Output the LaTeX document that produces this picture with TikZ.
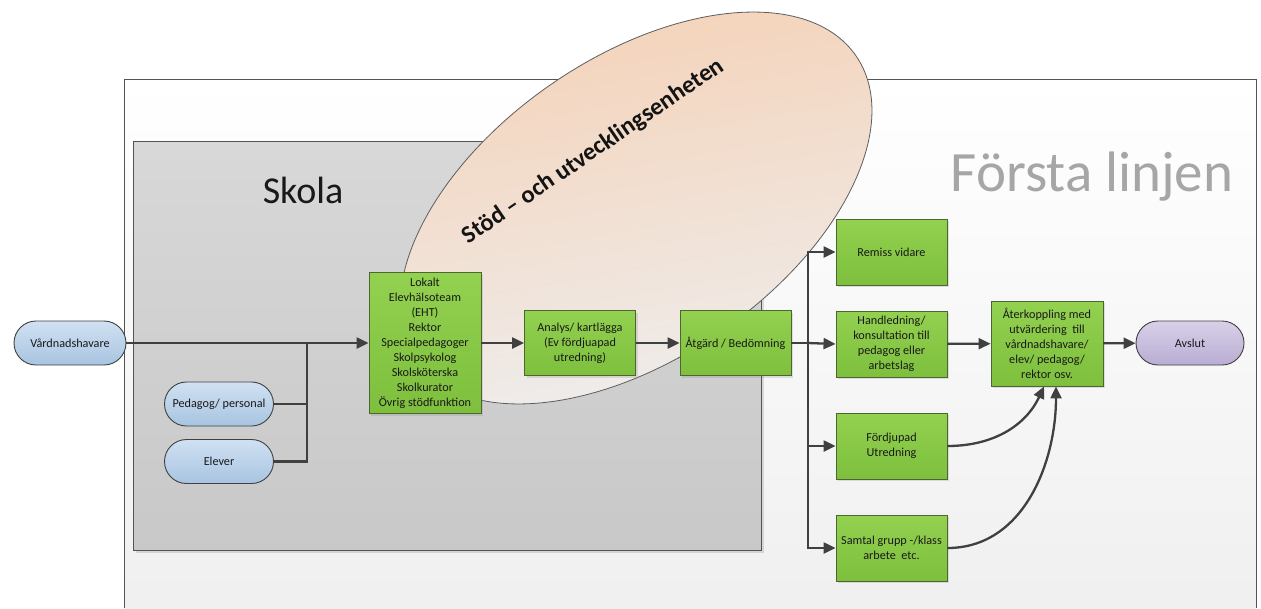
\documentclass[tikz,border=0pt]{standalone}
\usepackage{fontspec}
\setmainfont{Carlito}
\usetikzlibrary{shapes.misc,shapes.geometric,arrows.meta,shadows,calc}

\definecolor{lineg}{HTML}{404040}
\definecolor{greenA}{HTML}{93D150}
\definecolor{greenB}{HTML}{7EBF3E}
\definecolor{greenD}{HTML}{4D6630}
\definecolor{blueA}{HTML}{D0E1F2}
\definecolor{blueB}{HTML}{A8C4E1}
\definecolor{purpA}{HTML}{D8D0E8}
\definecolor{purpB}{HTML}{B9ADD3}
\definecolor{peach}{HTML}{F5D1B6}
\definecolor{ellgray}{HTML}{EEEEEE}
\definecolor{skolaA}{HTML}{D8D8D8}
\definecolor{skolaB}{HTML}{C8C8C8}
\definecolor{titlegray}{HTML}{A6A6A6}

\tikzset{
  boxtext/.style={font=\fontsize{12.2}{15}\selectfont, text=black!90, align=center},
  gbox/.style={boxtext, rectangle, draw=greenD, line width=0.9pt,
    top color=greenA, bottom color=greenB, inner sep=1pt,
    minimum width=111pt, minimum height=66pt,
    drop shadow={shadow xshift=2pt, shadow yshift=-2pt, opacity=0.22}},
  pill/.style={boxtext, rounded rectangle, draw=lineg, line width=0.9pt,
    minimum width=113pt, minimum height=44pt, inner sep=2pt},
  bluepill/.style={pill, top color=blueA, bottom color=blueB},
  purppill/.style={pill, top color=purpA, bottom color=purpB},
  link/.style={line width=2.3pt, draw=lineg},
  conn/.style={link, -{Triangle[length=12pt, width=11pt]}},
}

\begin{document}
\begin{tikzpicture}[x=1pt, y=-1pt]
  \useasboundingbox (0,0) rectangle (1261,608);

  % first-line frame
  \fill[top color=white, bottom color=black!6] (124,79) rectangle (1256,608);
  \draw[lineg!90, line width=0.8pt] (124,608) -- (124,79) -- (1256,79) -- (1256,608);
  \node[font=\fontsize{57}{64}\selectfont, text=titlegray] (forsta) at (1092,177) {Första linjen};

  % school frame
  \node[rectangle, draw=lineg!90, line width=0.9pt, top color=skolaA, bottom color=skolaB,
        minimum width=628pt, minimum height=409pt, inner sep=0pt,
        drop shadow={shadow xshift=2.5pt, shadow yshift=-2.5pt, opacity=0.25}]
        (skola) at (447,345.5) {};
  \node[font=\fontsize{38}{44}\selectfont, text=black!90] (skolatitle) at (303,190) {Skola};

  % support and development unit
  \node[ellipse, draw=lineg!85, line width=0.8pt, inner sep=0pt,
        minimum width=535pt, minimum height=300pt, rotate=34.7,
        top color=peach, bottom color=ellgray, shading angle=10] (sue) at (636,208) {};
  \node[rotate=34.3, anchor=base, font=\bfseries\fontsize{24.5}{28}\selectfont, text=black!92]
        (suetext) at (597,157) {Stöd – och utvecklingsenheten};

  % nodes
  \node[bluepill, minimum width=116pt] (vh) at (70,343) {Vårdnadshavare};
  \node[bluepill] (ped) at (219,404) {Pedagog/ personal};
  \node[bluepill] (elv) at (219,461.5) {Elever};

  \node[gbox, minimum width=112pt, minimum height=141pt] (lok) at (425,343)
    {Lokalt\\Elevhälsoteam\\(EHT)\\Rektor\\Specialpedagoger\\Skolpsykolog\\Skolsköterska\\Skolkurator\\Övrig stödfunktion};
  \node[gbox, minimum height=65pt] (ana) at (580,343) {Analys/ kartlägga\\(Ev fördjuapad\\utredning)};
  \node[gbox, minimum height=65pt] (atg) at (735.5,343) {Åtgärd / Bedömning};

  \node[gbox] (rem) at (891.5,252) {Remiss vidare};
  \node[gbox] (han) at (891.5,344) {Handledning/\\konsultation till\\pedagog eller\\arbetslag};
  \node[gbox] (fd)  at (891.5,446) {Fördjupad\\Utredning};
  \node[gbox] (sam) at (891.5,548) {Samtal grupp -/klass\\arbete\ \ etc.};

  \node[gbox, minimum width=112pt, minimum height=85pt] (ak) at (1047,343.5)
    {Återkoppling med\\utvärdering\ \ till\\vårdnadshavare/\\elev/ pedagog/\\rektor osv.};
  \node[purppill, minimum width=112pt] (avs) at (1190,343) {Avslut};

  % connectors
  \coordinate (j1) at (307,343);
  \coordinate (bus) at (808,343);
  \draw[conn] (vh.east) -- (lok.west);
  \draw[link] (ped.east) -| (j1);
  \draw[link] (elv.east) -| (j1);
  \draw[conn] (lok) -- (ana);
  \draw[conn] (ana) -- (atg);
  \draw[link] (atg.east) -- (bus);
  \draw[conn] (bus) |- (rem.west);
  \draw[conn] (bus) -- (han.west);
  \draw[conn] (bus) |- (fd.west);
  \draw[conn] (bus) |- (sam.west);
  \draw[conn] (han) -- (ak);
  \draw[conn] (ak) -- (avs);
  \draw[conn] (fd.east) to[out=0, in=-115] ([xshift=-3pt]ak.south);
  \draw[conn] (sam.east) to[out=0, in=-90] ([xshift=9pt]ak.south);
\end{tikzpicture}
\end{document}
